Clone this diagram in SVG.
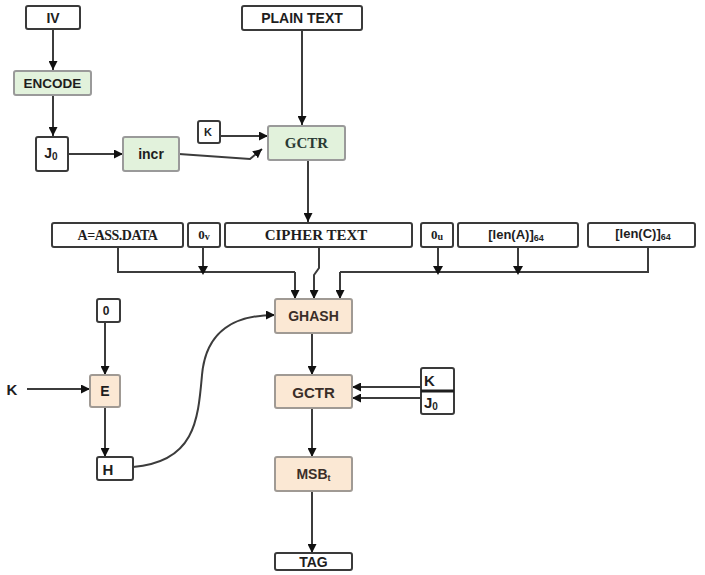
<svg xmlns="http://www.w3.org/2000/svg" width="705" height="575" viewBox="0 0 705 575">
  <defs>
    <marker id="arr" viewBox="0 0 10 10" refX="10" refY="5" markerWidth="9" markerHeight="9" markerUnits="userSpaceOnUse" orient="auto">
      <path d="M0,0 L10,5 L0,10 z" fill="#111"/>
    </marker>
  </defs>
  <style>
    .box { fill: #ffffff; stroke: #3a3a3a; stroke-width: 2; }
    .green { fill: #e2f2dc; stroke: #9a9a9a; stroke-width: 2; }
    .peach { fill: #fbe8d4; stroke: #a09a94; stroke-width: 2; }
    .t { font-family: "Liberation Sans", Arial, sans-serif; font-weight: bold; font-size: 14px; fill: #1e1e1e; text-anchor: middle; dominant-baseline: central; }
    .s { font-family: "Liberation Serif", "Times New Roman", serif; font-weight: bold; font-size: 15px; fill: #1e1e1e; text-anchor: middle; dominant-baseline: central; }
    .w { fill: none; stroke: #3c3c3c; stroke-width: 2; }
    .wa { fill: none; stroke: #3c3c3c; stroke-width: 2; marker-end: url(#arr); }
    .dot { fill: #111; }
  </style>

  <rect width="705" height="575" fill="#ffffff"/>

  <!-- connectors -->
  <g id="connectors">
    <path class="wa" d="M53,28 V70"/>
    <path class="wa" d="M53,95 V136"/>
    <path class="wa" d="M68,154 H123"/>
    <path class="wa" d="M179,154 L250,159 L262,149"/>
    <path class="wa" d="M220,136 H268"/>
    <path class="wa" d="M302,30 V125"/>
    <path class="wa" d="M308,160 V222"/>

    <!-- inputs feeding GHASH -->
    <path class="w" d="M118,247 V272 H295"/>
    <path class="wa" d="M295,272 V299"/>
    <path class="w" d="M203,247 V268"/>
    <path class="dot" d="M198,266 L208,266 L203,275 z"/>
    <path class="wa" d="M319,247 V268 L314,275 V299"/>
    <path class="w" d="M648,247 V272 H340"/>
    <path class="wa" d="M340,272 V299"/>
    <path class="w" d="M438,247 V268"/>
    <path class="dot" d="M433,266 L443,266 L438,275 z"/>
    <path class="w" d="M518,247 V268"/>
    <path class="dot" d="M513,266 L523,266 L518,275 z"/>

    <!-- hash subkey path -->
    <path class="wa" d="M105,322 V375"/>
    <path class="wa" d="M27,389 H90"/>
    <path class="wa" d="M105,407 V457"/>
    <path class="wa" d="M133,467 C195,462 198,420 202,375 C206,330 235,315 275,315"/>

    <!-- tag path -->
    <path class="wa" d="M312,333 V375"/>
    <path class="wa" d="M421,387 H352"/>
    <path class="wa" d="M421,398 H352"/>
    <path class="wa" d="M312,408 V457"/>
    <path class="wa" d="M312,491 V553"/>
  </g>

  <!-- counter / encryption part -->
  <g id="iv">
    <rect class="box" x="26" y="6" width="54" height="23" rx="2"/>
    <text class="t" x="53" y="17.5">IV</text>
  </g>
  <g id="encode">
    <rect class="green" x="14" y="71" width="77" height="24" rx="2"/>
    <text class="t" x="52.5" y="83" style="font-size:13.5px">ENCODE</text>
  </g>
  <g id="j0">
    <rect class="box" x="36" y="137" width="32" height="34" rx="2"/>
    <text class="t" x="51" y="153">J<tspan font-size="10" dy="3">0</tspan></text>
  </g>
  <g id="incr">
    <rect class="green" x="123" y="137" width="56" height="34" rx="2"/>
    <text class="t" x="151" y="154">incr</text>
  </g>
  <g id="k-top">
    <rect class="box" x="198" y="121" width="22" height="22" rx="2"/>
    <text class="t" x="208" y="132" style="font-size:11px">K</text>
  </g>
  <g id="plaintext">
    <rect class="box" x="242" y="6" width="120" height="24" rx="2"/>
    <text class="t" x="302" y="18">PLAIN TEXT</text>
  </g>
  <g id="gctr-top">
    <rect class="green" x="268" y="126" width="77" height="34" rx="2"/>
    <text class="s" x="306.5" y="143" style="fill:#2a3a34">GCTR</text>
  </g>

  <!-- GHASH input blocks -->
  <g id="aad">
    <rect class="box" x="52" y="223" width="131" height="24" rx="2"/>
    <text class="s" x="117.5" y="235" style="font-size:14px;letter-spacing:-0.5px">A=ASS.DATA</text>
  </g>
  <g id="pad-v">
    <rect class="box" x="188" y="223" width="32" height="24" rx="2"/>
    <text class="s" x="204" y="234" style="font-size:13px">0<tspan font-size="10" dy="2">v</tspan></text>
  </g>
  <g id="ciphertext">
    <rect class="box" x="225" y="223" width="187" height="24" rx="2"/>
    <text class="s" x="316" y="235">CIPHER TEXT</text>
  </g>
  <g id="pad-u">
    <rect class="box" x="421" y="223" width="32" height="24" rx="2"/>
    <text class="s" x="437" y="234" style="font-size:13px">0<tspan font-size="10" dy="2">u</tspan></text>
  </g>
  <g id="len-a">
    <rect class="box" x="458" y="223" width="120" height="24" rx="2"/>
    <text class="t" x="516" y="234" style="font-size:13px">[len(A)]<tspan font-size="9" dy="4">64</tspan></text>
  </g>
  <g id="len-c">
    <rect class="box" x="588" y="223" width="107" height="24" rx="2"/>
    <text class="t" x="643" y="233" style="font-size:13px">[len(C)]<tspan font-size="9" dy="4">64</tspan></text>
  </g>

  <!-- hash subkey -->
  <g id="zero">
    <rect class="box" x="97" y="299" width="23" height="23" rx="2"/>
    <text class="t" x="106" y="310.5" style="font-size:12px">0</text>
  </g>
  <g id="k-left">
    <text class="t" x="12" y="389" style="font-size:15px">K</text>
  </g>
  <g id="e">
    <rect class="peach" x="90" y="375" width="30" height="32" rx="2"/>
    <text class="t" x="105" y="391">E</text>
  </g>
  <g id="h">
    <rect class="box" x="97" y="457" width="36" height="23" rx="2"/>
    <text class="t" x="108" y="469" style="font-size:15px">H</text>
  </g>

  <!-- tag generation -->
  <g id="ghash">
    <rect class="peach" x="275" y="299" width="77" height="34" rx="2"/>
    <text class="t" x="313.5" y="316" style="fill:#3a2e28">GHASH</text>
  </g>
  <g id="gctr-bottom">
    <rect class="peach" x="275" y="375" width="77" height="33" rx="2"/>
    <text class="t" x="313.5" y="392" style="font-size:15px;fill:#3a2e28">GCTR</text>
  </g>
  <g id="k-j0">
    <rect class="box" x="421" y="368" width="33" height="46" rx="2"/>
    <line x1="421" y1="391" x2="454" y2="391" stroke="#1e1e1e" stroke-width="3"/>
    <text class="t" x="424" y="380" style="text-anchor:start;font-size:15px">K</text>
    <text class="t" x="424" y="402" style="text-anchor:start;font-size:15px">J<tspan font-size="10" dy="4">0</tspan></text>
  </g>
  <g id="msb">
    <rect class="peach" x="275" y="457" width="77" height="34" rx="2"/>
    <text class="t" x="313.5" y="474" style="fill:#3a2e28">MSB<tspan font-size="9" dy="4">t</tspan></text>
  </g>
  <g id="tag">
    <rect class="box" x="275" y="553" width="77" height="17" rx="2"/>
    <text class="t" x="313.5" y="562">TAG</text>
  </g>
</svg>
